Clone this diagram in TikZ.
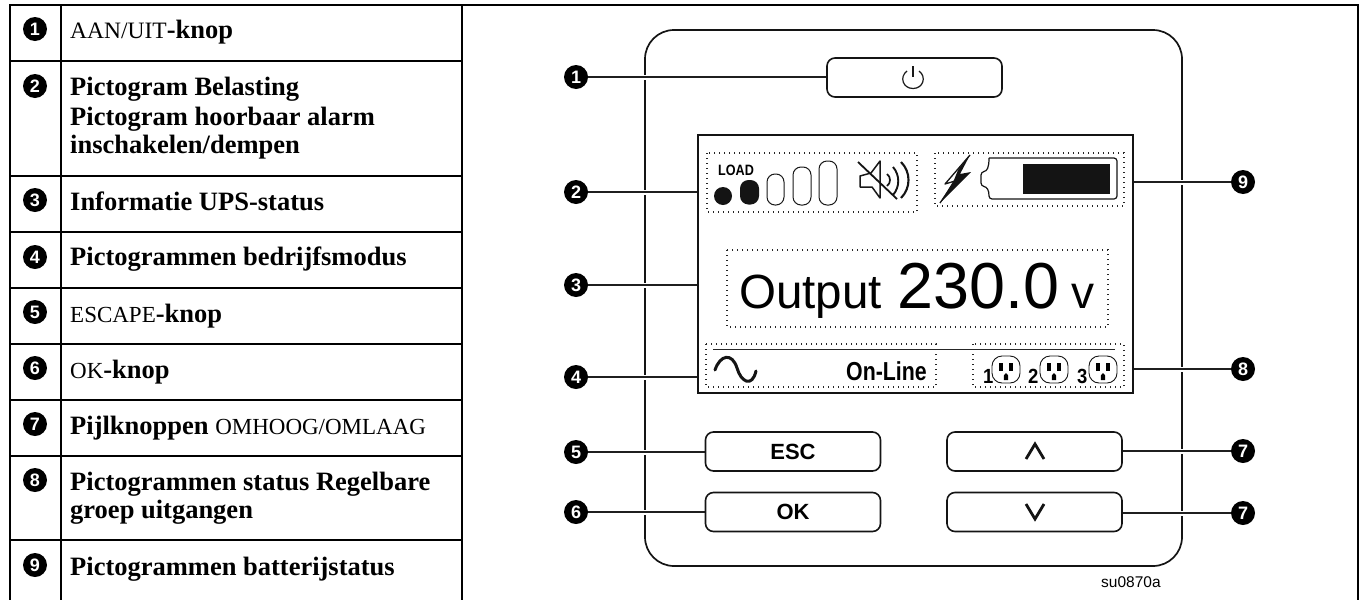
\documentclass[tikz,border=0pt]{standalone}
\usepackage{fontspec}
\setmainfont{Liberation Serif}
\newfontfamily\arialf{Liberation Sans}
\newcommand{\fsz}[1]{\fontsize{#1}{#1}\selectfont}
\pgfdeclarelayer{bglayer}
\pgfdeclarelayer{midlayer}
\pgfsetlayers{bglayer,midlayer,main}
\tikzset{
  x=1pt,y=-1pt,
  rule/.style={line width=2pt,color=black},
  num/.style={circle,fill=black,text=white,inner sep=0pt,minimum size=24pt,font=\arialf\bfseries\fsz{18}},
  lab/.style={anchor=base west,inner sep=0pt,font=\fsz{26.5}\bfseries},
  panelline/.style={line width=1.7pt,color=black!92},
  btn/.style={draw=black!92,fill=white,line width=1.6pt,rounded corners=8pt,inner sep=0pt,minimum width=175pt,minimum height=39pt,font=\arialf\bfseries\fsz{22}},
  lcd/.style={draw=black!92,fill=white,line width=1.8pt,inner sep=0pt,minimum width=435pt,minimum height=258pt},
  lead/.style={line width=1.2pt,color=black!88,preaction={draw=white,line width=5pt}},
  dots/.style={line width=1.1pt,color=black!85,dash pattern=on 1.2pt off 3.8pt},
  pill/.style={line width=1pt,color=black!90,rounded corners=8pt},
  lcdtxt/.style={anchor=base west,inner sep=0pt},
  icon/.style={line width=1.5pt,color=black!90},
}
\begin{document}
\begin{tikzpicture}
\useasboundingbox (0,0) rectangle (1362,600);
\begin{pgfonlayer}{bglayer}
\fill[white] (0,0) rectangle (1362,600);
% table rules
\draw[rule] (9,5) -- (1359,5);
\draw[rule] (1358,5) -- (1358,600);
\draw[rule] (10,5) -- (10,600);
\draw[rule] (61,5) -- (61,600);
\draw[rule] (462,5) -- (462,600);
\foreach \yy in {61,176,232,287.5,344,400,456,540} \draw[rule] (10,\yy) -- (462,\yy);
% panel
\draw[panelline,rounded corners=29pt] (645,30) rectangle (1182,566);
\end{pgfonlayer}

% table numbers and texts
\node[num] (t1) at (35,29) {1};
\node[num] (t2) at (35,86) {2};
\node[num] (t3) at (35,200) {3};
\node[num] (t4) at (35,257) {4};
\node[num] (t5) at (35,312) {5};
\node[num] (t6) at (35,368) {6};
\node[num] (t7) at (35,424) {7};
\node[num] (t8) at (35,480) {8};
\node[num] (t9) at (35,565) {9};
\node[lab] (l1) at (70,38) {{\fsz{23.5}\mdseries AAN/UIT}-knop};
\node[lab] (l2a) at (70,95) {Pictogram Belasting};
\node[lab] (l2b) at (70,125) {Pictogram hoorbaar alarm};
\node[lab] (l2c) at (70,153.5) {inschakelen/dempen};
\node[lab] (l3) at (70,210) {Informatie UPS-status};
\node[lab] (l4) at (70,265) {Pictogrammen bedrijfsmodus};
\node[lab] (l5) at (70,322) {{\fsz{23}\mdseries ESCAPE}-knop};
\node[lab] (l6) at (70,378) {{\fsz{23}\mdseries OK}-knop};
\node[lab] (l7) at (70,434) {Pijlknoppen {\fsz{23}\mdseries OMHOOG/OMLAAG}};
\node[lab] (l8a) at (70,490) {Pictogrammen status Regelbare};
\node[lab] (l8b) at (70,518) {groep uitgangen};
\node[lab] (l9) at (70,575) {Pictogrammen batterijstatus};

% buttons and display
\node[btn] (power) at (914.5,77.5) {};
\node[btn] (esc) at (793,451.5) {ESC};
\node[btn] (ok) at (793,512) {OK};
\node[btn] (up) at (1034.5,451.5) {};
\node[btn] (down) at (1034.5,512) {};
\node[lcd] (screen) at (915.5,264) {};

% callouts
\node[num] (c1) at (576,77) {1};
\node[num] (c2) at (576,192) {2};
\node[num] (c3) at (576,285) {3};
\node[num] (c4) at (576,377) {4};
\node[num] (c5) at (576,452) {5};
\node[num] (c6) at (576,512) {6};
\node[num] (c7a) at (1243,451) {7};
\node[num] (c7b) at (1243,513) {7};
\node[num] (c8) at (1243,369) {8};
\node[num] (c9) at (1243,182) {9};

\begin{pgfonlayer}{midlayer}
\draw[lead] (c1) -- (c1 -| power.west);
\draw[lead] (c2) -- (c2 -| screen.west);
\draw[lead] (c3) -- (c3 -| screen.west);
\draw[lead] (c4) -- (c4 -| screen.west);
\draw[lead] (c5) -- (c5 -| esc.west);
\draw[lead] (c6) -- (c6 -| ok.west);
\draw[lead] (c7a) -- (c7a -| up.east);
\draw[lead] (c7b) -- (c7b -| down.east);
\draw[lead] (c8) -- (c8 -| screen.east);
\draw[lead] (c9) -- (c9 -| screen.east);
\end{pgfonlayer}

% power symbol
\draw[line width=1.2pt,color=black!90] (913,66) -- (913,77);
\draw[line width=1.2pt,color=black!90] (907,71) .. controls (899,77) and (903,88.5) .. (913,88.5) .. controls (923,88.5) and (927,77) .. (919,71);
% arrows
\draw[line width=2.8pt,color=black!92] (1026,459) -- (1035,444) -- (1044,459);
\draw[line width=2.8pt,color=black!92] (1026,504) -- (1035,519) -- (1044,504);

% dotted groups
\draw[dots] (707,153) rectangle (917,212);
\draw[dots] (935,153) rectangle (1124,206);
\draw[dots] (727,250) rectangle (1108,327);
\draw[dots] (706,344) rectangle (936,387);
\draw[dots] (973,344) rectangle (1124,387);

% load
\node[lcdtxt,font=\arialf\bfseries\fsz{15}] (loadt) at (718,175) {\scalebox{0.84}[1]{LOAD}};
\fill[black!92] (723,196) circle[radius=9];
\fill[black!92,rounded corners=8.5pt] (740,180) rectangle (759,204.5);
\draw[pill] (767,174) rectangle (784,205);
\draw[pill] (793,167) rectangle (811,205);
\draw[pill] (819,161) rectangle (837,205);
% speaker
\draw[icon,line join=round] (860,176) -- (860,187) -- (872,187) -- (880,198) -- (880,161) -- (871,173) -- cycle;
\draw[line width=1.8pt,color=black!92] (858,162) -- (897,199);
\draw[line width=1.7pt,color=black!92] (887,174) .. controls (891,177) and (891,183) .. (887,186);
\draw[line width=1.9pt,color=black!92] (893,167) .. controls (900,175) and (900,187) .. (893,195);
\draw[line width=2.1pt,color=black!92] (901,162) .. controls (911,172) and (911,188) .. (901,198);
% bolt
\draw[line width=1.3pt,color=black!92,line join=round] (970,155) -- (945,184) -- (955,181) -- (940,203);
\fill[black!92] (940,203) -- (971,172) -- (960,174) -- (970,155) -- (958,170) -- (954,180) -- cycle;
% battery
\draw[line width=1.2pt,color=black!92,rounded corners=3pt] (989,158) -- (1117,158) -- (1117,199) -- (989,199) .. controls (989,190) and (987,187) .. (981,186) -- (981,172) .. controls (987,171) and (989,168) .. (989,158);
\fill[black!92] (1023,164) rectangle (1110,194);

% status text
\node[lcdtxt,font=\arialf\fsz{48}] (out) at (739,308) {\scalebox{0.99}[1]{Output}};
\node[lcdtxt,font=\arialf\fsz{65}] (volt) at (897,308) {\scalebox{0.995}[1]{230.0}};
\node[lcdtxt,font=\arialf\fsz{46}] (unit) at (1071,308) {v};

% status bar
\draw[line width=1pt,color=black!85] (713,349) -- (1115,349);
\draw[line width=3pt,color=black!92,line cap=round] (715,370) .. controls (720,355) and (732,352) .. (737,368) .. controls (741,382) and (752,388) .. (756,371);
\node[lcdtxt,font=\arialf\bfseries\fsz{26}] (mode) at (846,380) {\scalebox{0.82}[1]{On-Line}};
\node[lcdtxt,font=\arialf\bfseries\fsz{20.5}] (n1) at (983,383) {\scalebox{0.9}[1]{1}};
\node[lcdtxt,font=\arialf\bfseries\fsz{20.5}] (n2) at (1028,383) {\scalebox{0.9}[1]{2}};
\node[lcdtxt,font=\arialf\bfseries\fsz{20.5}] (n3) at (1077,383) {\scalebox{0.9}[1]{3}};
\foreach \cx in {1006,1054,1103}{
  \draw[line width=0.9pt,color=black!92,rounded corners=10pt] (\cx-14,356) rectangle (\cx+14,383);
  \fill[black] (\cx-7,363) rectangle (\cx-3,371);
  \fill[black] (\cx+3,363) rectangle (\cx+7,371);
  \fill[black] (\cx-2.2,375.5) -- (\cx,373) -- (\cx+2.2,375.5) -- (\cx+2.2,380) -- (\cx-2.2,380) -- cycle;
}
\node[lcdtxt,font=\arialf\fsz{15.5}] (code) at (1101,587) {su0870a};
\end{tikzpicture}
\end{document}
